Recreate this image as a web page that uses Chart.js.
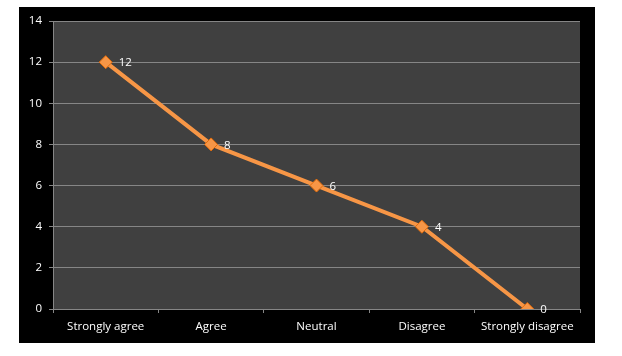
<!DOCTYPE html>
<html><head><meta charset="utf-8">
<script src="https://cdn.jsdelivr.net/npm/chart.js@4"></script>
<style>
html,body{margin:0;padding:0;background:#fff;}
#wrap{position:absolute;left:19px;top:7px;width:576px;height:336px;background:#000;}
</style></head><body>
<div id="wrap"><canvas id="c" width="576" height="336"></canvas></div>
<script>
const categories = ["Strongly agree","Agree","Neutral","Disagree","Strongly disagree"];
const values = [12, 8, 6, 4, 0];
const yTicks = [0, 2, 4, 6, 8, 10, 12, 14];

const bgPlugin = {
  id:'bg',
  beforeDraw(chart){
    const {ctx, chartArea:a} = chart;
    ctx.save(); ctx.fillStyle='#404040';
    ctx.fillRect(a.left,a.top,a.right-a.left,a.bottom-a.top);
    ctx.restore();
  }
};
const labelPlugin = {
  id:'lbl',
  afterDatasetsDraw(chart){
    const {ctx} = chart;
    const meta = chart.getDatasetMeta(0);
    ctx.save();
    ctx.fillStyle='#ffffff';
    ctx.font='11.5px "Open Sans"';
    ctx.textBaseline='middle';
    ctx.textAlign='left';
    meta.data.forEach((p,i)=>{ ctx.fillText(String(values[i]), p.x+13, p.y+1); });
    ctx.restore();
  }
};

new Chart(document.getElementById('c'), {
  type:'line',
  data:{ labels:categories, datasets:[{
    data:values, borderColor:'#F79646', borderWidth:4,
    pointStyle:'rectRot', pointRadius:6.5, pointBackgroundColor:'#F79646',
    pointBorderColor:'#E46C0A', pointBorderWidth:1, tension:0
  }]},
  options:{
    responsive:false, animation:false,
    layout:{padding:{top:14,right:15,left:0,bottom:0}},
    plugins:{legend:{display:false}, tooltip:{enabled:false}},
    scales:{
      x:{
        offset:true,
        grid:{display:true, drawOnChartArea:false, drawTicks:true, tickLength:4, color:'#868686', offset:true},
        border:{color:'#868686', width:1},
        ticks:{color:'#ffffff', font:{family:'Open Sans', size:11.5}, padding:7, maxRotation:0, autoSkip:false},
        afterFit(s){ s.height=34; }
      },
      y:{
        min:0, max:14,
        afterBuildTicks(s){ s.ticks = yTicks.map(v=>({value:v})); },
        grid:{color:'#868686', lineWidth:1, tickLength:4, drawTicks:true},
        border:{color:'#868686', width:1},
        ticks:{color:'#ffffff', font:{family:'Open Sans', size:11.5}, padding:7},
        afterFit(s){ s.width=34; }
      }
    }
  },
  plugins:[bgPlugin, labelPlugin]
});
</script>
</body></html>
